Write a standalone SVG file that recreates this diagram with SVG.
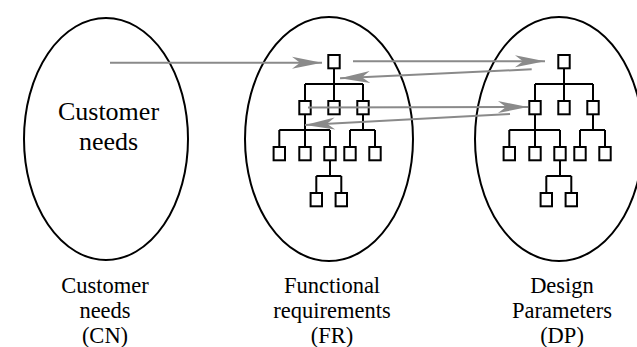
<svg xmlns="http://www.w3.org/2000/svg" width="637" height="347" viewBox="0 0 637 347">
<style>
.ell{fill:none;stroke:#000;stroke-width:2}
.box{fill:#fff;stroke:#000;stroke-width:2}
.ln{fill:none;stroke:#000;stroke-width:2}
.arr{fill:none;stroke:#8a8a8a;stroke-width:2;marker-end:url(#ah)}
.t{font-family:"Liberation Serif","Times New Roman",serif;fill:#000;text-anchor:middle}
.big{font-size:26px}
.lab{font-size:22.5px}
</style>
<defs>
<marker id="ah" markerUnits="userSpaceOnUse" markerWidth="32" markerHeight="14" refX="30" refY="7" orient="auto" overflow="visible">
<path d="M0,1 L30,7 L0,13 L8,7 Z" fill="#8a8a8a"/>
</marker>
<g id="tree">
<path class="ln" d="M334,69 V84 M305,84 H363 M305,84 V100 M334,84 V100 M363,84 V100 M305,115 V130 M279.3,130 H330 M279.3,130 V146 M305,130 V146 M330,130 V146 M363,115 V130 M350,130 H375 M350,130 V146 M375,130 V146 M330,161 V176 M316.3,176 H341.3 M316.3,176 V192 M341.3,176 V192"/>
<rect class="box" x="328.3" y="55" width="11.4" height="13.3"/>
<rect class="box" x="299.3" y="101" width="11.4" height="13.3"/>
<rect class="box" x="328.3" y="101" width="11.4" height="13.3"/>
<rect class="box" x="357.3" y="101" width="11.4" height="13.3"/>
<rect class="box" x="273.6" y="147" width="11.4" height="13.3"/>
<rect class="box" x="299.3" y="147" width="11.4" height="13.3"/>
<rect class="box" x="324.3" y="147" width="11.4" height="13.3"/>
<rect class="box" x="344.3" y="147" width="11.4" height="13.3"/>
<rect class="box" x="369.3" y="147" width="11.4" height="13.3"/>
<rect class="box" x="310.6" y="193" width="11.4" height="13.3"/>
<rect class="box" x="335.6" y="193" width="11.4" height="13.3"/>
</g>
</defs>
<rect width="637" height="347" fill="#fff"/>
<g id="cn">
<ellipse class="ell" cx="106" cy="139" rx="82" ry="121"/>
<text class="t big" x="108.5" y="120">Customer</text>
<text class="t big" x="108.5" y="150">needs</text>
<text class="t lab" x="105" y="293">Customer</text>
<text class="t lab" x="105" y="318">needs</text>
<text class="t lab" x="105" y="343">(CN)</text>
</g>
<g id="fr">
<ellipse class="ell" cx="329" cy="139" rx="84" ry="122"/>
<use href="#tree"/>
<text class="t lab" x="332" y="293">Functional</text>
<text class="t lab" x="332" y="318">requirements</text>
<text class="t lab" x="332" y="343">(FR)</text>
</g>
<g id="dp">
<ellipse class="ell" cx="559" cy="139" rx="84" ry="122"/>
<use href="#tree" transform="translate(230,0)"/>
<text class="t lab" x="562" y="293">Design</text>
<text class="t lab" x="562" y="318">Parameters</text>
<text class="t lab" x="562" y="343">(DP)</text>
</g>
<g id="connectors">
<line class="arr" x1="110" y1="62.7" x2="322" y2="62.7"/>
<line class="arr" x1="353" y1="61.3" x2="545" y2="61.3"/>
<line class="arr" x1="531.7" y1="69.3" x2="340" y2="78.3"/>
<line class="arr" x1="308" y1="107.5" x2="528" y2="107"/>
<line class="arr" x1="510" y1="114" x2="305" y2="125"/>
</g>
</svg>
